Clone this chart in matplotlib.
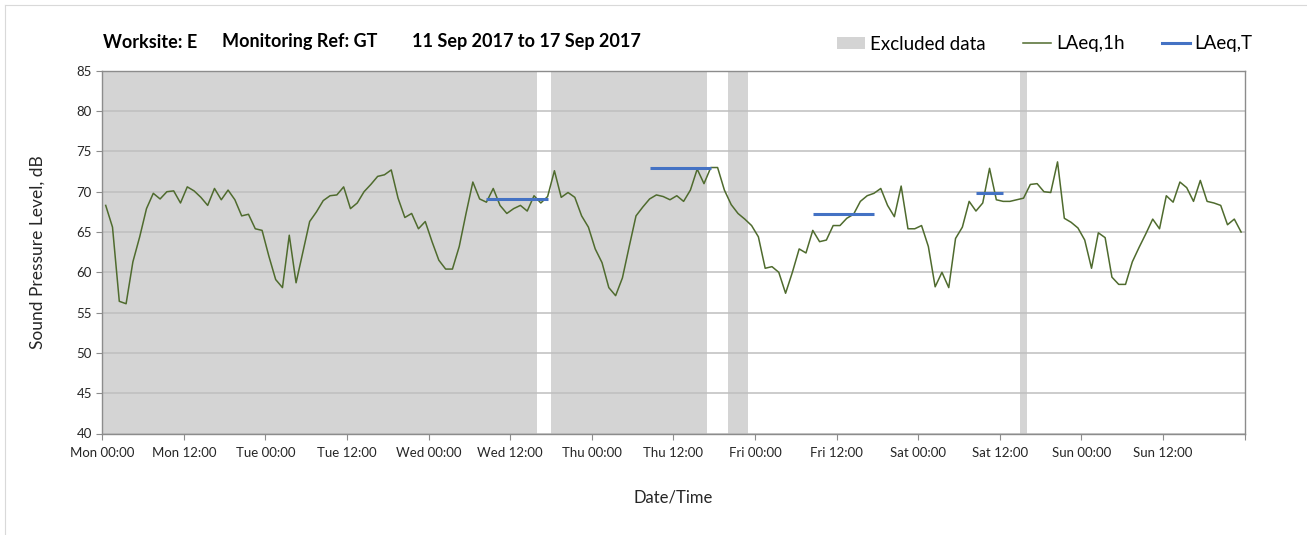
import matplotlib
matplotlib.use("Agg")
import matplotlib.pyplot as plt
from matplotlib.patches import Patch
from matplotlib.lines import Line2D
import numpy as np

# ---- data ----
hours = list(range(168))  # hourly periods from Mon 00:00
laeq_1h = [
    68.3, 65.6, 56.4, 56.1, 61.3, 64.4, 67.9, 69.8, 69.1, 70.0, 70.1, 68.6,
    70.6, 70.1, 69.3, 68.3, 70.4, 69.0, 70.2, 69.0, 67.0, 67.2, 65.4, 65.2,
    62.0, 59.1, 58.1, 64.6, 58.7, 62.5, 66.3, 67.5, 68.9, 69.5, 69.6, 70.6,
    67.9, 68.6, 70.0, 70.9, 71.9, 72.1, 72.7, 69.2, 66.8, 67.3, 65.4, 66.3,
    63.8, 61.5, 60.4, 60.4, 63.2, 67.3, 71.2, 69.1, 68.7, 70.4, 68.3, 67.3,
    67.9, 68.3, 67.6, 69.5, 68.6, 69.4, 72.6, 69.3, 69.9, 69.3, 67.0, 65.6,
    62.9, 61.2, 58.1, 57.1, 59.3, 63.2, 67.0, 68.1, 69.1, 69.6, 69.4, 69.0,
    69.5, 68.8, 70.2, 72.8, 71.0, 73.0, 73.0, 70.2, 68.4, 67.3, 66.6, 65.8,
    64.4, 60.5, 60.7, 60.0, 57.4, 60.0, 62.9, 62.4, 65.2, 63.8, 64.0, 65.8,
    65.8, 66.7, 67.2, 68.8, 69.5, 69.8, 70.4, 68.3, 66.9, 70.7, 65.4, 65.4,
    65.8, 63.2, 58.2, 60.0, 58.1, 64.2, 65.6, 68.8, 67.6, 68.6, 72.9, 69.0,
    68.8, 68.8, 69.0, 69.2, 70.9, 71.0, 70.0, 69.9, 73.7, 66.7, 66.2, 65.5,
    64.0, 60.5, 64.9, 64.3, 59.4, 58.5, 58.5, 61.3, 63.1, 64.8, 66.6, 65.4,
    69.5, 68.7, 71.2, 70.5, 68.8, 71.4, 68.8, 68.6, 68.3, 65.9, 66.6, 65.0,
]
# excluded periods (hour start, hour end)
excl_start = [0, 66, 92, 135]
excl_end = [64, 89, 95, 136]
# LAeq,T periods
laeqT_start = [56, 80, 104, 128]
laeqT_end = [65, 89, 113, 132]
laeqT_val = [69.1, 72.9, 67.2, 69.8]

tick_labels = ["Mon 00:00", "Mon 12:00", "Tue 00:00", "Tue 12:00", "Wed 00:00",
               "Wed 12:00", "Thu 00:00", "Thu 12:00", "Fri 00:00", "Fri 12:00",
               "Sat 00:00", "Sat 12:00", "Sun 00:00", "Sun 12:00", ""]
title_parts = ["Worksite: E", "Monitoring Ref: GT", "11 Sep 2017 to 17 Sep 2017"]
legend_labels = ["Excluded data", "LAeq,1h", "LAeq,T"]

# ---- style ----
plt.rcParams['font.family'] = ['Lato', 'DejaVu Sans']
GREEN = "#4F6B2E"
BLUE = "#4472C4"
BAND = "#D4D4D4"
GRID = "#BFBFBF"
AXC = "#8C8C8C"
W, H = 1307, 535

fig = plt.figure(figsize=(W / 100, H / 100), dpi=100)
# faint outer frame (top and left edges visible in reference)
fig.add_artist(Line2D([5 / W, 5 / W], [0, 1 - 5 / H], transform=fig.transFigure,
                      color="#D9D9D9", lw=0.8))
fig.add_artist(Line2D([5 / W, 1], [1 - 5 / H, 1 - 5 / H], transform=fig.transFigure,
                      color="#D9D9D9", lw=0.8))

ax = fig.add_axes([102.3 / W, (H - 433.5) / H, (1244.5 - 102.3) / W, (433.5 - 70.8) / H])

off = 0.5
x = np.array(hours) + off
for s, e in zip(excl_start, excl_end):
    ax.axvspan(s, e, color=BAND, lw=0, zorder=0.2)
ax.plot(x, laeq_1h, color=GREEN, lw=1.1, zorder=3)
for s, e, v in zip(laeqT_start, laeqT_end, laeqT_val):
    ax.plot([s + off, e + off], [v, v], color=BLUE, lw=2.2, zorder=4, solid_capstyle='butt')

ax.set_xlim(0, 168)
ax.set_ylim(40, 85)
ax.set_xticks(np.arange(0, 169, 12))
ax.set_xticklabels(tick_labels, fontsize=9.5, color="#262626")
ax.set_xticks(np.arange(0, 169, 24), minor=True)
ax.set_yticks(np.arange(40, 86, 5))
ax.tick_params(axis='y', labelsize=9.5, colors=AXC, labelcolor="#262626", length=4, width=0.8)
ax.tick_params(axis='x', which='major', colors=AXC, labelcolor="#262626", length=4, width=0.8, pad=6)
ax.tick_params(axis='x', which='minor', length=0)
ax.grid(True, axis='y', color=GRID, lw=1.1, zorder=0.5)
ax.grid(True, axis='x', which='minor', color=GRID, lw=1.1, zorder=0.5)
ax.set_axisbelow(False)
for sp in ax.spines.values():
    sp.set_color(AXC)
    sp.set_linewidth(1.0)
    sp.set_zorder(5)

ax.set_ylabel("Sound Pressure Level, dB", fontsize=12.5, color="#262626", labelpad=22)
ax.set_xlabel("Date/Time", fontsize=12, color="#262626", labelpad=22)

for xp, txt in zip([103, 222, 412], title_parts):
    fig.text(xp / W, 1 - 42 / H, txt, fontsize=13, fontweight='bold', va='center',
             ha='left', color="#000000")

handles = [Patch(facecolor=BAND, edgecolor='none'),
           Line2D([], [], color=GREEN, lw=1.1),
           Line2D([], [], color=BLUE, lw=2.2)]
fig.legend(handles, legend_labels, loc='center left',
           bbox_to_anchor=(837 / W, 1 - 44 / H), ncol=3, frameon=False,
           fontsize=13.5, handlelength=1.5, handleheight=0.6, handletextpad=0.25,
           columnspacing=2.0, borderaxespad=0, borderpad=0)

fig.savefig("out.png", dpi=100)
